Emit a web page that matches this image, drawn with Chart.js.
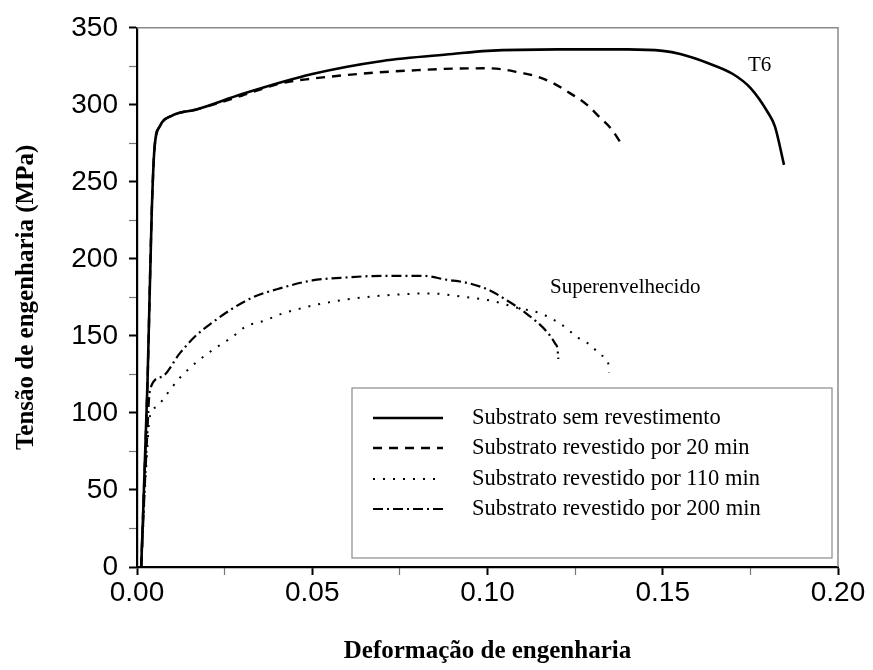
<!DOCTYPE html>
<html lang="pt">
<head>
<meta charset="UTF-8">
<title>Tensão x Deformação</title>
<script src="https://cdn.jsdelivr.net/npm/chart.js"></script>
<style>
  html, body { margin: 0; padding: 0; background: #fff; }
  canvas { display: block; }
</style>
</head>
<body>
<canvas id="curvas" width="873" height="670"></canvas>
<script>
// Curvas tensão-deformação (deformação, MPa)
const strainT6 = [0.0012, 0.003, 0.0042, 0.005, 0.0065, 0.01, 0.017, 0.03, 0.05, 0.07, 0.09, 0.10, 0.12, 0.14, 0.15, 0.155, 0.163, 0.17, 0.175, 0.18, 0.182, 0.1846];
const stressT6 = [0, 120, 230, 272, 286, 293, 297, 307, 320, 328.5, 333, 335, 336, 336, 335, 333, 327, 320, 311, 295, 286, 261];

const strain20 = [0.0012, 0.003, 0.0042, 0.005, 0.0065, 0.01, 0.017, 0.03, 0.041, 0.05, 0.0685, 0.08, 0.09, 0.0999, 0.1045, 0.109, 0.114, 0.1188, 0.1235, 0.1284, 0.1316, 0.1355, 0.1387];
const stress20 = [0, 120, 230, 272, 286, 293, 297, 306, 314, 317, 321, 322.5, 323.5, 323.7, 323, 321, 318.5, 314, 307.6, 300, 292.8, 283.8, 272.8];

const strain110 = [0.0012, 0.0025, 0.0037, 0.0057, 0.008, 0.0123, 0.017, 0.0223, 0.027, 0.031, 0.0365, 0.0417, 0.047, 0.0528, 0.061, 0.069, 0.0836, 0.092, 0.1007, 0.109, 0.115, 0.1207, 0.126, 0.13, 0.132, 0.1344, 0.1347];
const stress110 = [0, 60, 98, 104, 110.7, 123, 133, 142, 149, 156, 160, 164.7, 168, 171, 174, 176, 177.6, 175.7, 173, 168, 164.7, 158, 148.6, 143, 137.7, 132.6, 126];

const strain200 = [0.0012, 0.0028, 0.0037, 0.0071, 0.0123, 0.017, 0.0217, 0.0265, 0.033, 0.041, 0.05, 0.06, 0.07, 0.0816, 0.088, 0.095, 0.1007, 0.1056, 0.111, 0.117, 0.1193, 0.12, 0.1202];
const stress200 = [0, 80, 115, 123.5, 139, 150.6, 159, 166.7, 175, 181, 186, 188, 189, 189, 186.6, 184, 179.5, 173, 164.7, 152.5, 145, 141, 135];

const seriesLabels = [
  'Substrato sem revestimento',
  'Substrato revestido por 20 min',
  'Substrato revestido por 110 min',
  'Substrato revestido por 200 min'
];

const xTicks = [0, 0.05, 0.10, 0.15, 0.20];
const yTicks = [0, 50, 100, 150, 200, 250, 300, 350];

const toPoints = (xs, ys) => xs.map((x, i) => ({ x: x, y: ys[i] }));

const serif = '"Liberation Serif", "Times New Roman", serif';
const sans = '"Liberation Sans", Arial, sans-serif';

// moldura superior/direita, rótulos das curvas e legenda interna
const extras = {
  id: 'extras',
  afterDatasetsDraw(chart) {
    const { ctx, chartArea: a } = chart;
    ctx.save();
    ctx.strokeStyle = '#8a8a8a';
    ctx.lineWidth = 1.5;
    ctx.beginPath();
    ctx.moveTo(a.left, a.top);
    ctx.lineTo(a.right, a.top);
    ctx.lineTo(a.right, a.bottom);
    ctx.stroke();

    ctx.fillStyle = '#000';
    ctx.font = '21px ' + serif;
    ctx.textBaseline = 'alphabetic';
    ctx.fillText('T6', 748, 71);
    ctx.fillText('Superenvelhecido', 550, 293);

    // legenda
    const bx = 352, by = 388, bw = 480, bh = 170;
    ctx.fillStyle = '#fff';
    ctx.fillRect(bx, by, bw, bh);
    ctx.strokeStyle = '#8a8a8a';
    ctx.lineWidth = 1.2;
    ctx.strokeRect(bx, by, bw, bh);
    const rows = [418, 448, 479, 509];
    chart.data.datasets.forEach((ds, i) => {
      const y = rows[i];
      ctx.strokeStyle = '#000';
      ctx.lineWidth = ds.borderWidth;
      ctx.setLineDash(ds.borderDash || []);
      ctx.beginPath();
      ctx.moveTo(373, y);
      ctx.lineTo(443, y);
      ctx.stroke();
      ctx.setLineDash([]);
      ctx.fillStyle = '#000';
      ctx.font = '22.5px ' + serif;
      ctx.textBaseline = 'middle';
      ctx.fillText(ds.label, 472, y);
    });
    ctx.restore();
  }
};

const isMajor = (v, step) => Math.abs(v / step - Math.round(v / step)) < 1e-6;

new Chart(document.getElementById('curvas'), {
  type: 'line',
  data: {
    datasets: [
      { label: seriesLabels[0], data: toPoints(strainT6, stressT6), borderWidth: 2.6 },
      { label: seriesLabels[1], data: toPoints(strain20, stress20), borderWidth: 2.4, borderDash: [9, 7] },
      { label: seriesLabels[2], data: toPoints(strain110, stress110), borderWidth: 2, borderDash: [2, 8] },
      { label: seriesLabels[3], data: toPoints(strain200, stress200), borderWidth: 2.2, borderDash: [10, 4, 2, 4] }
    ].map(ds => Object.assign({
      borderColor: '#000',
      backgroundColor: '#000',
      pointRadius: 0,
      fill: false,
      cubicInterpolationMode: 'monotone'
    }, ds))
  },
  options: {
    responsive: false,
    animation: false,
    layout: { padding: { top: 25, right: 35, bottom: 0, left: 0 } },
    plugins: { legend: { display: false }, tooltip: { enabled: false } },
    scales: {
      x: {
        type: 'linear',
        min: xTicks[0],
        max: xTicks[xTicks.length - 1],
        afterFit: s => { s.height = 103; },
        ticks: {
          stepSize: 0.025,
          padding: 1,
          color: '#000',
          font: { family: sans, size: 28 },
          maxRotation: 0,
          callback: v => isMajor(v, 0.05) ? v.toFixed(2) : ''
        },
        grid: {
          drawOnChartArea: false,
          tickLength: 8,
          tickColor: c => isMajor(c.tick.value, 0.05) ? '#000' : '#777',
          tickWidth: c => isMajor(c.tick.value, 0.05) ? 2 : 1.2
        },
        border: { color: '#000', width: 2.2 },
        title: {
          display: true,
          text: 'Deformação de engenharia',
          color: '#000',
          font: { family: serif, size: 25, weight: 'bold' },
          padding: { top: 0, bottom: 3 }
        }
      },
      y: {
        min: yTicks[0],
        max: yTicks[yTicks.length - 1],
        afterFit: s => { s.width = 137; },
        ticks: {
          stepSize: 25,
          padding: 11,
          color: '#000',
          font: { family: sans, size: 28 },
          callback: v => isMajor(v, 50) ? v : ''
        },
        grid: {
          drawOnChartArea: false,
          tickLength: 8,
          tickColor: c => isMajor(c.tick.value, 50) ? '#000' : '#777',
          tickWidth: c => isMajor(c.tick.value, 50) ? 2 : 1.2
        },
        border: { color: '#000', width: 2.2 },
        title: {
          display: true,
          text: 'Tensão de engenharia (MPa)',
          color: '#000',
          font: { family: serif, size: 25, weight: 'bold' },
          padding: { top: 12, bottom: 0 }
        }
      }
    }
  },
  plugins: [extras]
});
</script>
</body>
</html>
